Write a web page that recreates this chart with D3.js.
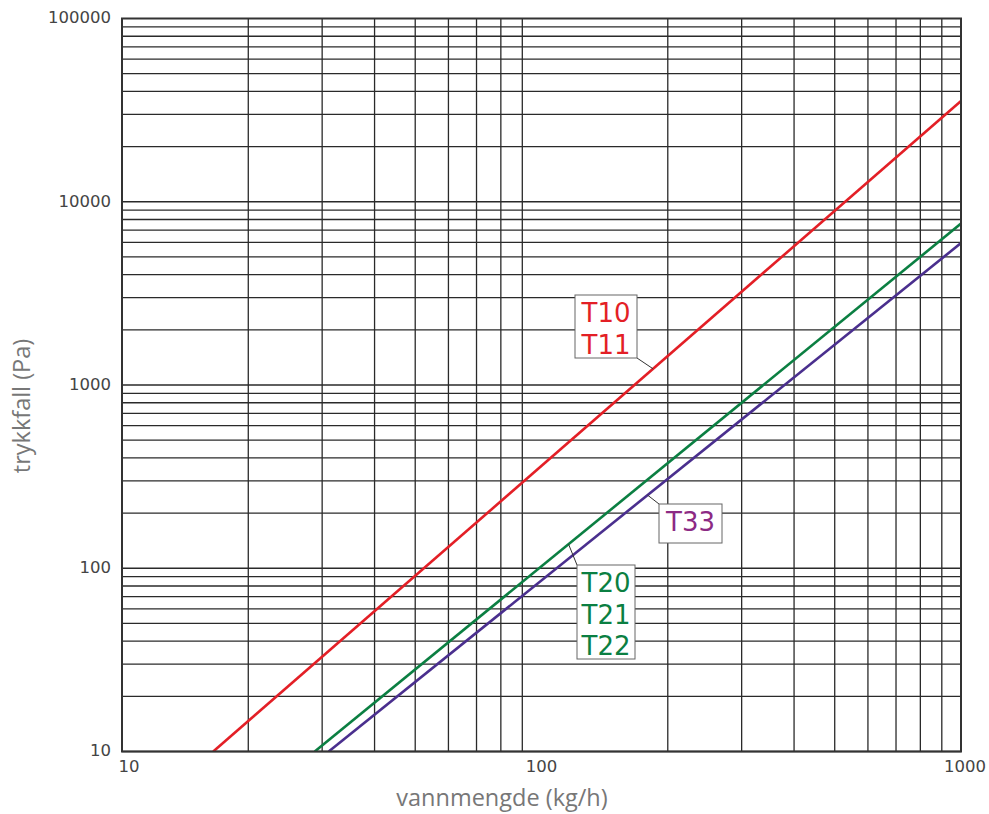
<!DOCTYPE html>
<html>
<head>
<meta charset="utf-8">
<script src="https://cdn.jsdelivr.net/npm/d3@7"></script>
<style>
  body { margin: 0; background: #fff; }
</style>
</head>
<body>
<div id="chart"></div>
<script>
var width = 989;
var height = 814;
var margin = {top: 18.5, right: 28, bottom: 62.5, left: 122};

// flow (kg/h) and pressure drop (Pa) at line ends
var seriesNames = ['T10/T11', 'T20/T21/T22', 'T33'];
var flowT10 = [16.5, 1000];
var dpT10 = [10, 35500];
var flowT20 = [28.8, 1000];
var dpT20 = [10, 7600];
var flowT33 = [31.1, 1000];
var dpT33 = [10, 5950];

var xTicks = [10, 100, 1000];
var yTicks = [10, 100, 1000, 10000, 100000];

var series = [
  {name: seriesNames[0], flow: flowT10, dp: dpT10, color: '#e31f26', text: '#e31f26', labels: ['T10', 'T11']},
  {name: seriesNames[1], flow: flowT20, dp: dpT20, color: '#0b7f42', text: '#0b7f42', labels: ['T20', 'T21', 'T22']},
  {name: seriesNames[2], flow: flowT33, dp: dpT33, color: '#4a2f8e', text: '#8c2a84', labels: ['T33']}
];

var svg = d3.select('#chart').append('svg')
  .attr('width', width)
  .attr('height', height);

var x = d3.scaleLog().domain([10, 1000]).range([margin.left, width - margin.right]);
var y = d3.scaleLog().domain([10, 100000]).range([height - margin.bottom, margin.top]);

// minor grid: 1..9 in every decade
var xGrid = [];
[10, 100].forEach(d => { for (var i = 2; i <= 9; i++) xGrid.push(d * i); });
var yGrid = [];
[10, 100, 1000, 10000].forEach(d => { for (var i = 1; i <= 9; i++) yGrid.push(d * i); });

var grid = svg.append('g').attr('stroke', '#2a2a2a').attr('stroke-width', 1.3);

grid.selectAll('line.v')
  .data(xGrid)
  .enter().append('line')
    .attr('class', 'v')
    .attr('x1', d => x(d)).attr('x2', d => x(d))
    .attr('y1', y(10)).attr('y2', y(100000));

grid.selectAll('line.h')
  .data(yGrid)
  .enter().append('line')
    .attr('class', 'h')
    .attr('x1', x(10)).attr('x2', x(1000))
    .attr('y1', d => y(d)).attr('y2', d => y(d));

svg.append('defs').append('clipPath').attr('id', 'clip')
  .append('rect')
    .attr('x', x(10)).attr('y', y(100000))
    .attr('width', x(1000) - x(10)).attr('height', y(10) - y(100000));

var line = d3.line()
  .x(d => x(d[0]))
  .y(d => y(d[1]));

svg.append('g').attr('clip-path', 'url(#clip)')
  .selectAll('path')
  .data(series)
  .enter().append('path')
    .attr('fill', 'none')
    .attr('stroke', d => d.color)
    .attr('stroke-width', 2.6)
    .attr('d', d => line(d.flow.map((f, i) => [f, d.dp[i]])));

// frame
svg.append('rect')
  .attr('x', x(10)).attr('y', y(100000))
  .attr('width', x(1000) - x(10)).attr('height', y(10) - y(100000))
  .attr('fill', 'none')
  .attr('stroke', '#333')
  .attr('stroke-width', 2);

// label boxes with leader lines (anchor = point on the line, in data units)
var notes = [
  {s: series[0], at: 184.5, box: {x: 575, y: 295, w: 62, h: 63}, corner: [637, 358]},
  {s: series[1], at: 116, box: {x: 577, y: 565, w: 58, h: 94}, corner: [577, 565]},
  {s: series[2], at: 179, box: {x: 659, y: 504, w: 63, h: 39}, corner: [659, 504]}
];

function lineValue(s, f) {
  var lx = s.flow.map(Math.log10), ly = s.dp.map(Math.log10);
  var t = (Math.log10(f) - lx[0]) / (lx[1] - lx[0]);
  return Math.pow(10, ly[0] + t * (ly[1] - ly[0]));
}

var note = svg.append('g').selectAll('g')
  .data(notes)
  .enter().append('g');

note.append('line')
  .attr('x1', d => d.corner[0]).attr('y1', d => d.corner[1])
  .attr('x2', d => x(d.at)).attr('y2', d => y(lineValue(d.s, d.at)))
  .attr('stroke', '#333')
  .attr('stroke-width', 1);

note.append('rect')
  .attr('x', d => d.box.x).attr('y', d => d.box.y)
  .attr('width', d => d.box.w).attr('height', d => d.box.h)
  .attr('fill', '#fff')
  .attr('stroke', '#666')
  .attr('stroke-width', 1);

note.each(function(d) {
  var g = d3.select(this);
  d.s.labels.forEach((t, i) => {
    g.append('text')
      .attr('x', d.box.x + d.box.w / 2)
      .attr('y', d.box.y + 27 + i * 31.5)
      .attr('text-anchor', 'middle')
      .attr('font-family', 'DejaVu Sans, sans-serif')
      .attr('font-size', 26)
      .attr('fill', d.s.text)
      .text(t);
  });
});

// tick labels
svg.append('g').selectAll('text')
  .data(yTicks)
  .enter().append('text')
    .attr('x', 111)
    .attr('y', d => y(d))
    .attr('dy', '0.3em')
    .attr('text-anchor', 'end')
    .attr('font-family', 'DejaVu Sans, sans-serif')
    .attr('font-size', 16.5)
    .attr('fill', '#444')
    .text(d => d);

svg.append('g').selectAll('text')
  .data(xTicks)
  .enter().append('text')
    .attr('x', (d, i) => x(d) + [7, 0, 4][i])
    .attr('y', 772)
    .attr('text-anchor', 'middle')
    .attr('font-family', 'DejaVu Sans, sans-serif')
    .attr('font-size', 16.5)
    .attr('fill', '#444')
    .text(d => d);

// axis titles
svg.append('text')
  .attr('x', 502)
  .attr('y', 806)
  .attr('text-anchor', 'middle')
  .attr('font-family', 'Open Sans, sans-serif')
  .attr('font-size', 23.5)
  .attr('fill', '#777')
  .text('vannmengde (kg/h)');

svg.append('text')
  .attr('transform', 'translate(30, 406) rotate(-90)')
  .attr('text-anchor', 'middle')
  .attr('font-family', 'Open Sans, sans-serif')
  .attr('font-size', 23.5)
  .attr('fill', '#777')
  .text('trykkfall (Pa)');
</script>
</body>
</html>
